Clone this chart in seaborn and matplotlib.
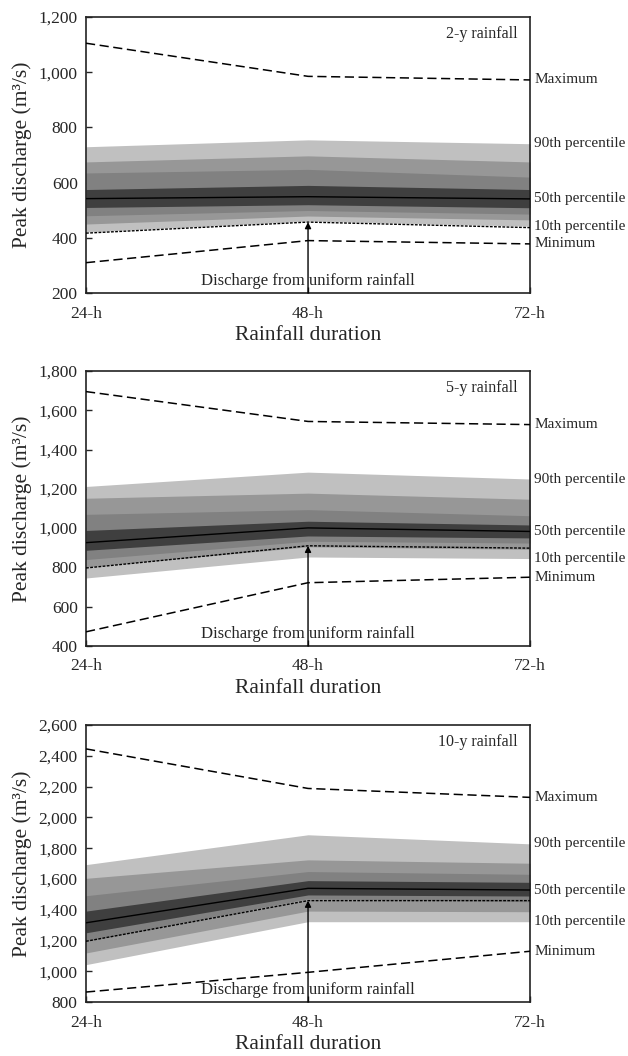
import matplotlib
matplotlib.use('Agg')
import matplotlib.pyplot as plt
import seaborn as sns
import numpy as np
from matplotlib.ticker import FuncFormatter

durations = ['24-h', '48-h', '72-h']

# 2-y rainfall
y2_max = [1105, 985, 972]
y2_p90 = [730, 755, 741]
y2_p80 = [675, 697, 675]
y2_p70 = [635, 648, 620]
y2_p60 = [575, 590, 575]
y2_p50 = [542, 549, 541]
y2_p40 = [510, 520, 509]
y2_p30 = [480, 499, 486]
y2_p20 = [450, 479, 465]
y2_p10 = [421, 461, 442]
y2_uniform = [417, 457, 437]
y2_min = [310, 390, 378]

# 5-y rainfall
y5_max = [1695, 1543, 1527]
y5_p90 = [1212, 1285, 1250]
y5_p80 = [1152, 1178, 1147]
y5_p70 = [1070, 1094, 1063]
y5_p60 = [988, 1035, 1016]
y5_p50 = [926, 1001, 983]
y5_p40 = [887, 960, 950]
y5_p30 = [840, 933, 924]
y5_p20 = [802, 905, 892]
y5_p10 = [746, 853, 845]
y5_uniform = [797, 910, 898]
y5_min = [472, 722, 750]

# 10-y rainfall
y10_max = [2445, 2188, 2130]
y10_p90 = [1693, 1887, 1828]
y10_p80 = [1604, 1724, 1702]
y10_p70 = [1491, 1648, 1630]
y10_p60 = [1391, 1589, 1578]
y10_p50 = [1315, 1539, 1528]
y10_p40 = [1250, 1496, 1489]
y10_p30 = [1195, 1472, 1452]
y10_p20 = [1119, 1391, 1387]
y10_p10 = [1043, 1322, 1322]
y10_uniform = [1195, 1459, 1459]
y10_min = [865, 993, 1130]

sns.set_style('ticks')
plt.rcParams['font.family'] = ['Liberation Serif', 'DejaVu Serif']

band_colors = ['#c0c0c0', '#979797', '#818181', '#3f3f3f']  # outer -> inner

panels = [
    ('2-y rainfall', [y2_p10, y2_p20, y2_p30, y2_p40, y2_p50, y2_p60, y2_p70, y2_p80, y2_p90],
     y2_uniform, y2_min, y2_max, (200, 1200), 0.7225, 0.2614),
    ('5-y rainfall', [y5_p10, y5_p20, y5_p30, y5_p40, y5_p50, y5_p60, y5_p70, y5_p80, y5_p90],
     y5_uniform, y5_min, y5_max, (400, 1800), 0.3883, 0.2604),
    ('10-y rainfall', [y10_p10, y10_p20, y10_p30, y10_p40, y10_p50, y10_p60, y10_p70, y10_p80, y10_p90],
     y10_uniform, y10_min, y10_max, (800, 2600), 0.0511, 0.2623),
]

fig = plt.figure(figsize=(6.28, 10.56), dpi=100)
x = np.arange(len(durations))

for title, pcts, uniform, vmin, vmax, ylim, bottom, height in panels:
    ax = fig.add_axes([0.137, bottom, 0.707, height])

    # nested percentile bands, outermost first
    for i, col in enumerate(band_colors):
        ax.fill_between(x, pcts[i], pcts[8 - i], color=col, lw=0, zorder=1)

    sns.lineplot(x=x, y=pcts[4], color='black', lw=1.0, ax=ax, zorder=3)
    sns.lineplot(x=x, y=uniform, color='black', lw=1.0, linestyle=(0, (2, 1)), ax=ax, zorder=3)
    sns.lineplot(x=x, y=vmax, color='black', lw=1.1, linestyle=(0, (6, 3)), ax=ax, zorder=3)
    sns.lineplot(x=x, y=vmin, color='black', lw=1.1, linestyle=(0, (6, 3)), ax=ax, zorder=3)

    # arrow for discharge from uniform rainfall
    ax.annotate('', xy=(1, uniform[1]), xytext=(1, ylim[0]),
                arrowprops=dict(arrowstyle='-|>', color='black', lw=1.0,
                                mutation_scale=9, shrinkA=0, shrinkB=0), zorder=4)
    ax.text(1, ylim[0] + 0.045 * (ylim[1] - ylim[0]), 'Discharge from uniform rainfall',
            ha='center', va='center', fontsize=12, zorder=5)

    ax.text(0.971, 0.939, title, transform=ax.transAxes, ha='right', va='center', fontsize=11.5)

    # right side labels
    right_labels = [('Maximum', vmax[2]), ('90th percentile', pcts[8][2]),
                    ('50th percentile', pcts[4][2]), ('10th percentile', pcts[0][2]),
                    ('Minimum', vmin[2])]
    for lab, val in right_labels:
        ax.annotate(lab, xy=(2, val), xytext=(3, 0), textcoords='offset points',
                    ha='left', va='center', fontsize=11, annotation_clip=False)

    ax.set_xlim(0, 2)
    ax.set_ylim(*ylim)
    ax.set_xticks(x)
    ax.set_xticklabels(durations)
    ax.set_yticks(np.arange(ylim[0], ylim[1] + 1, 200))
    ax.yaxis.set_major_formatter(FuncFormatter(lambda v, p: f'{int(v):,}'))
    ax.tick_params(direction='in', length=4, width=1, labelsize=12.5, pad=6)
    ax.tick_params(axis='x', pad=9)
    for s in ax.spines.values():
        s.set_linewidth(1.2)
        s.set_color('#222222')
    ax.set_xlabel('Rainfall duration', fontsize=15.5, labelpad=3)
    ax.set_ylabel('Peak discharge (m³/s)', fontsize=15.5, labelpad=5)

fig.savefig('out.png', dpi=100)
